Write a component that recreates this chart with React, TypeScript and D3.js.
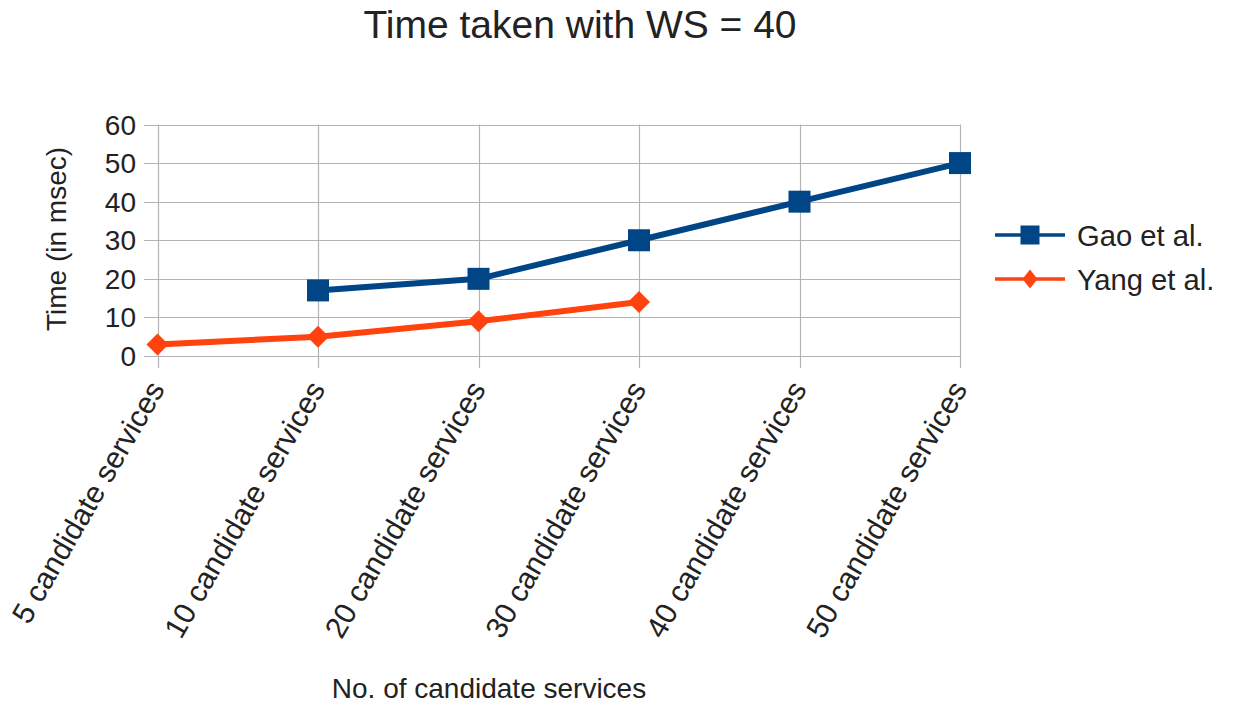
import React from "react";
import * as d3 from "d3";

const categories = [
  "5 candidate services",
  "10 candidate services",
  "20 candidate services",
  "30 candidate services",
  "40 candidate services",
  "50 candidate services",
];
const gaoValues: (number | null)[] = [null, 17, 20, 30, 40, 50];
const yangValues: (number | null)[] = [3, 5, 9, 14, null, null];
const yTicks = [0, 10, 20, 30, 40, 50, 60];

const W = 1233;
const H = 706;
const FONT = "'Liberation Sans', Arial, sans-serif";
const TEXT = "#222222";
const GRID = "#b3b3b3";
const BLUE = "#004586";
const ORANGE = "#ff420e";

export default function App() {
  const x = d3.scalePoint<string>().domain(categories).range([157.5, 960]);
  const y = d3.scaleLinear().domain([0, 60]).range([356, 124.5]);

  const line = d3
    .line<[string, number | null]>()
    .defined((d) => d[1] !== null)
    .x((d) => x(d[0])!)
    .y((d) => y(d[1] as number));

  const gaoPts = categories.map((c, i) => [c, gaoValues[i]] as [string, number | null]);
  const yangPts = categories.map((c, i) => [c, yangValues[i]] as [string, number | null]);

  const diamond = (cx: number, cy: number, rx: number, ry: number) =>
    `M${cx},${cy - ry}L${cx + rx},${cy}L${cx},${cy + ry}L${cx - rx},${cy}Z`;

  return (
    <svg
      width={W}
      height={H}
      style={{ position: "absolute", left: 0, top: 0, background: "#fff" }}
      fontFamily={FONT}
    >
      <rect width={W} height={H} fill="#fff" />
      {/* title */}
      <text x={580} y={38} textAnchor="middle" fontSize={39} fill={TEXT}>
        Time taken with WS = 40
      </text>

      {/* horizontal gridlines + y ticks */}
      {yTicks.map((t) => (
        <g key={t}>
          <line x1={144} x2={960} y1={Math.round(y(t)) + 0.5} y2={Math.round(y(t)) + 0.5} stroke={GRID} strokeWidth={1.2} />
          <text x={136} y={y(t)} dy="0.36em" textAnchor="end" fontSize={28} fill={TEXT}>
            {t}
          </text>
        </g>
      ))}

      {/* vertical gridlines + category labels */}
      {categories.map((c) => (
        <g key={c}>
          <line x1={Math.round(x(c)!) + 0.5} x2={Math.round(x(c)!) + 0.5} y1={124.5} y2={368} stroke={GRID} strokeWidth={1.2} />
          <text
            transform={`translate(${x(c)! + 8},${389}) rotate(-60)`}
            textAnchor="end"
            fontSize={30}
            fill={TEXT}
          >
            {c}
          </text>
        </g>
      ))}

      {/* axis titles */}
      <text x={489} y={698} textAnchor="middle" fontSize={28} fill={TEXT}>
        No. of candidate services
      </text>
      <text transform="translate(66,239) rotate(-90)" textAnchor="middle" fontSize={28} fill={TEXT}>
        Time (in msec)
      </text>

      {/* series */}
      <path d={line(gaoPts) ?? ""} fill="none" stroke={BLUE} strokeWidth={6} strokeLinejoin="round" />
      {gaoPts
        .filter((d) => d[1] !== null)
        .map((d) => (
          <rect key={d[0]} x={x(d[0])! - 11} y={y(d[1] as number) - 11} width={22} height={22} fill={BLUE} />
        ))}
      <path d={line(yangPts) ?? ""} fill="none" stroke={ORANGE} strokeWidth={6} strokeLinejoin="round" />
      {yangPts
        .filter((d) => d[1] !== null)
        .map((d) => (
          <path key={d[0]} d={diamond(x(d[0])!, y(d[1] as number), 11, 11)} fill={ORANGE} />
        ))}

      {/* legend */}
      <g>
        <line x1={995} x2={1065} y1={235} y2={235} stroke={BLUE} strokeWidth={3.5} />
        <rect x={1020.5} y={225.5} width={19} height={19} fill={BLUE} />
        <text x={1077} y={235} dy="0.36em" fontSize={29.2} fill={TEXT}>
          Gao et al.
        </text>
        <line x1={995} x2={1065} y1={279} y2={279} stroke={ORANGE} strokeWidth={3.5} />
        <path d={diamond(1030, 279, 7.5, 9.5)} fill={ORANGE} />
        <text x={1077} y={279} dy="0.36em" fontSize={29.2} fill={TEXT}>
          Yang et al.
        </text>
      </g>
    </svg>
  );
}
